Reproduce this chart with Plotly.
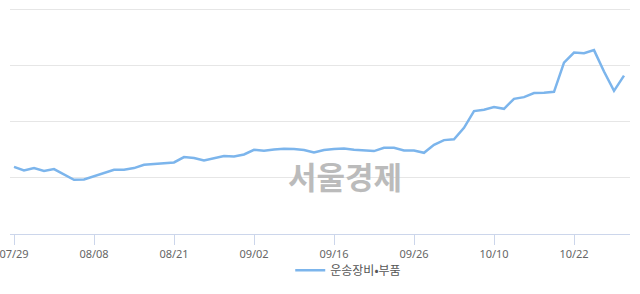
import plotly.graph_objects as go

dates = ["07/29", "07/30", "07/31", "08/01", "08/02", "08/05", "08/06", "08/07", "08/08",
         "08/09", "08/12", "08/13", "08/14", "08/16", "08/19", "08/20", "08/21",
         "08/22", "08/23", "08/26", "08/27", "08/28", "08/29", "08/30", "09/02",
         "09/03", "09/04", "09/05", "09/06", "09/09", "09/10", "09/11", "09/16",
         "09/17", "09/18", "09/19", "09/20", "09/23", "09/24", "09/25", "09/26",
         "09/27", "09/30", "10/01", "10/02", "10/04", "10/07", "10/08", "10/10",
         "10/11", "10/14", "10/15", "10/16", "10/17", "10/18", "10/21", "10/22",
         "10/23", "10/24", "10/25", "10/28", "10/29"]

values = [819.6, 813.1, 817.3, 812.0, 815.6, 805.4, 796.5, 797.1, 802.4,
          808.4, 814.3, 814.3, 817.3, 823.2, 824.4, 826.2, 827.3,
          836.9, 835.1, 830.8, 834.4, 838.7, 838.0, 841.5, 849.9,
          848.1, 850.4, 851.6, 851.1, 849.3, 845.1, 849.3, 851.1,
          852.2, 849.9, 849.3, 847.6, 853.4, 853.4, 848.6, 848.6,
          844.5, 858.8, 867.1, 868.5, 889.0, 918.7, 921.0, 925.8,
          922.8, 940.5, 943.6, 950.8, 951.2, 953.0, 1005.1, 1022.8,
          1021.8, 1027.3, 989.1, 954.8, 981.8]

tick_labels = ["07/29", "08/08", "08/21", "09/02", "09/16", "09/26", "10/10", "10/22"]

series_name = "운송장비•부품"
watermark = "서울경제"

fig = go.Figure()
fig.add_trace(go.Scatter(
    x=dates, y=values, mode="lines", name=series_name,
    line=dict(color="#7cb5ec", width=2.5),
))

fig.update_layout(
    width=640, height=294,
    margin=dict(l=10, r=10, t=7, b=60),
    paper_bgcolor="white", plot_bgcolor="white",
    font=dict(family="Noto Sans, Noto Sans CJK KR", color="#666666"),
    showlegend=True,
    legend=dict(orientation="h", x=0.452, xanchor="left", y=-0.16, yanchor="middle",
                font=dict(size=12, color="#555555", family="Noto Sans CJK KR"),
                itemwidth=30, bgcolor="rgba(0,0,0,0)"),
    xaxis=dict(type="category", categoryorder="array", categoryarray=dates,
               range=[-0.4, 61.6], tickmode="array", tickvals=tick_labels,
               ticktext=tick_labels, showgrid=False, showline=True,
               linecolor="#ccd6eb", linewidth=1, ticks="outside", ticklen=10,
               tickcolor="#ccd6eb", tickfont=dict(size=11, color="#666666"),
               zeroline=False, fixedrange=True, automargin=False),
    yaxis=dict(range=[700, 1104], tickmode="array", tickvals=[700, 800, 900, 1000, 1100],
               showgrid=True, gridcolor="#e6e6e6", gridwidth=1, showticklabels=False,
               zeroline=False, showline=False, fixedrange=True, automargin=False),
    annotations=[dict(text="<b>" + watermark + "</b>", xref="paper", yref="paper",
                      x=0.54, y=0.151, showarrow=False,
                      font=dict(family="Noto Sans CJK KR", size=31, color="#bbbbbb"))],
)

fig.write_html("out.html")
